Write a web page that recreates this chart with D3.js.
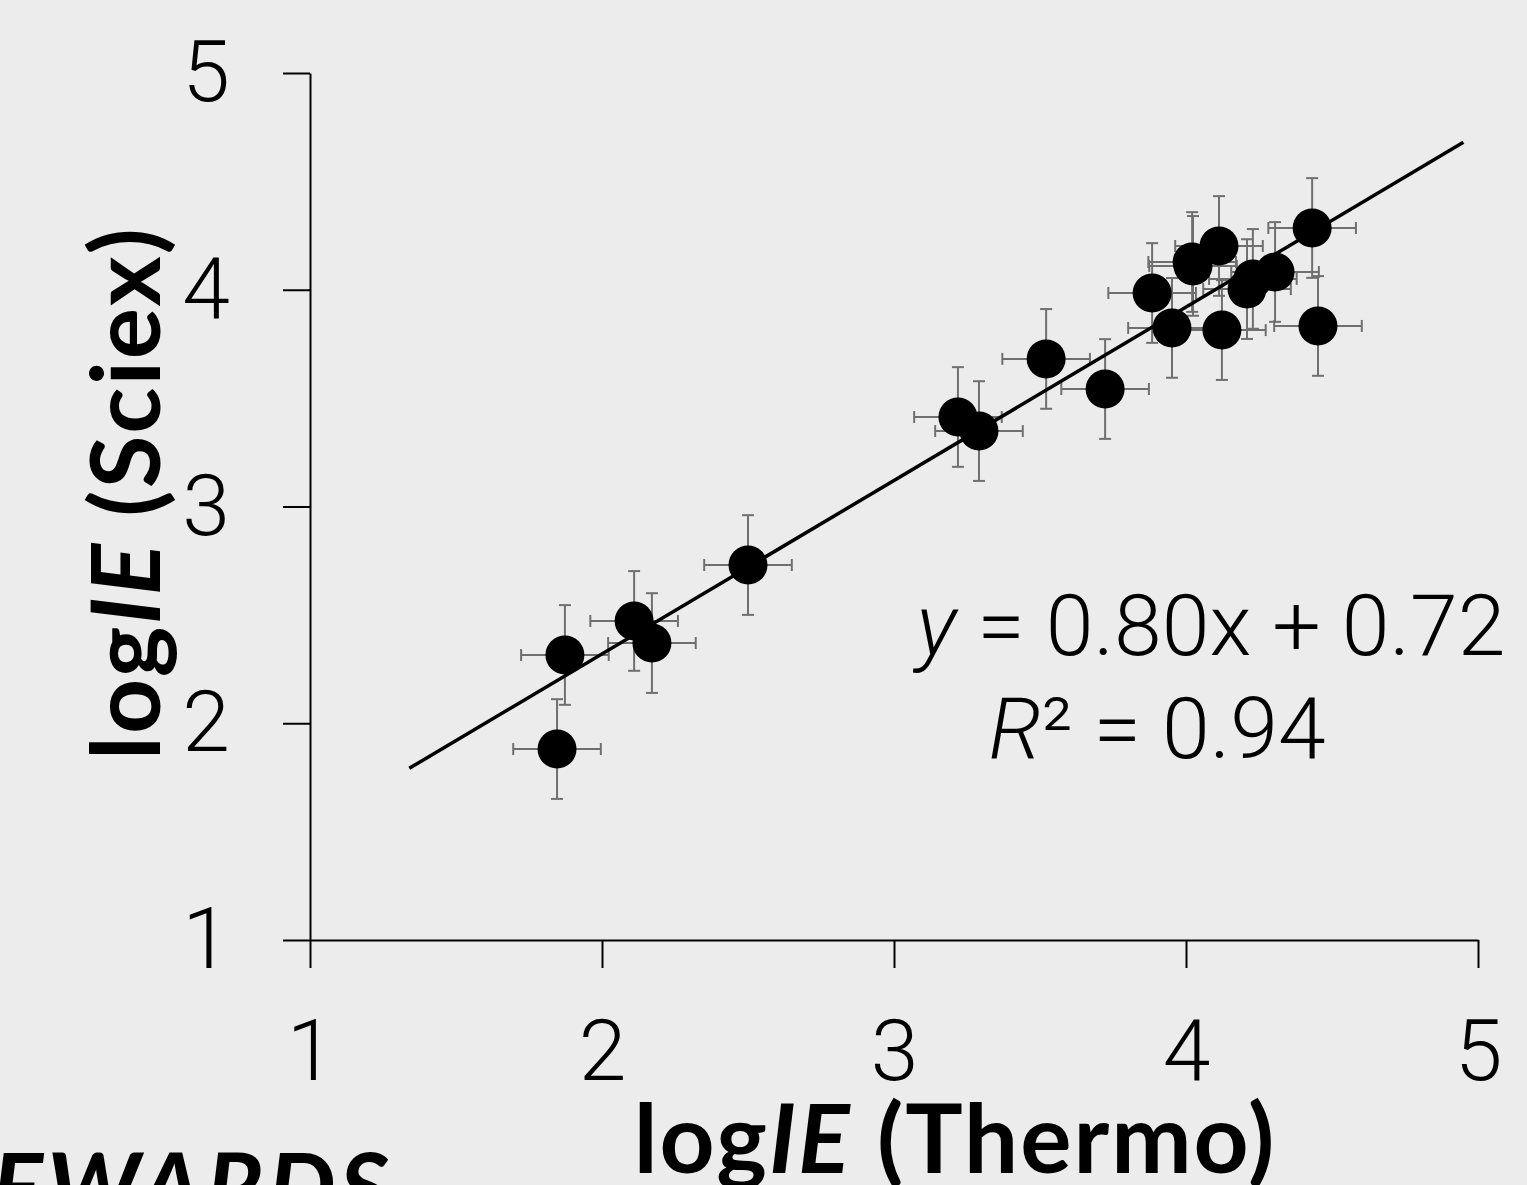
<!DOCTYPE html>
<html>
<head>
<meta charset="utf-8">
<script src="https://cdn.jsdelivr.net/npm/d3@7"></script>
<style>
  html, body { margin: 0; padding: 0; background: #ececec; }
  svg { display: block; }
  .tick text { font-family: Roboto, "Open Sans", sans-serif; font-weight: 300; }
  .title { font-family: Lato, Roboto, sans-serif; font-weight: 700; }
</style>
</head>
<body>
<div id="vis"></div>
<script>
// logIE measured on Thermo (x) vs Sciex (y)
const thermo = [1.873, 1.846, 2.110, 2.171, 2.500, 3.219, 3.291, 3.521, 3.723, 3.884,
                3.952, 4.021, 4.024, 4.113, 4.123, 4.229, 4.209, 4.305, 4.432, 4.452];
const sciex  = [2.315, 1.881, 2.472, 2.370, 2.730, 3.413, 3.348, 3.681, 3.542, 3.985,
                3.824, 4.128, 4.110, 4.202, 3.814, 4.050, 4.003, 4.082, 4.285, 3.833];
const thermoErr = [0.15, 0.15, 0.15, 0.15, 0.15, 0.15, 0.15, 0.15, 0.15, 0.15,
                   0.15, 0.15, 0.15, 0.15, 0.15, 0.15, 0.15, 0.15, 0.15, 0.15];
const sciexErr  = [0.23, 0.23, 0.23, 0.23, 0.23, 0.23, 0.23, 0.23, 0.23, 0.23,
                   0.23, 0.23, 0.23, 0.23, 0.23, 0.23, 0.23, 0.23, 0.23, 0.23];
const tickValues = [1, 2, 3, 4, 5];
const fitSlope = 0.80, fitIntercept = 0.72;
const fitRange = [1.34, 4.95];

const W = 1527, H = 1185;
const svg = d3.select("#vis").append("svg").attr("width", W).attr("height", H);

const x = d3.scaleLinear().domain([1, 5]).range([310, 1478]);
const y = d3.scaleLinear().domain([1, 5]).range([940, 73]);

// axes
const xAxis = svg.append("g")
  .attr("transform", `translate(0,${y(1)})`)
  .call(d3.axisBottom(x).tickValues(tickValues).tickFormat(d3.format("d"))
    .tickSize(28).tickSizeOuter(0).tickPadding(51));
const yAxis = svg.append("g")
  .attr("transform", `translate(${x(1)},0)`)
  .call(d3.axisLeft(y).tickValues(tickValues).tickFormat(d3.format("d"))
    .tickSize(27).tickSizeOuter(0).tickPadding(53));
[xAxis, yAxis].forEach(a => {
  a.selectAll("path, line").attr("stroke", "#000").attr("stroke-width", 2);
  a.selectAll("text").attr("font-size", 86).attr("fill", "#000");
});

const pts = thermo.map((v, i) => ({x: v, y: sciex[i], ex: thermoErr[i], ey: sciexErr[i]}));
const cap = 6;
const err = svg.append("g").attr("stroke", "#6f6f6f").attr("stroke-width", 2);
pts.forEach(d => {
  const cx = x(d.x), cy = y(d.y);
  const x0 = x(d.x - d.ex), x1 = x(d.x + d.ex);
  const y0 = y(d.y - d.ey), y1 = y(d.y + d.ey);
  err.append("line").attr("x1", x0).attr("x2", x1).attr("y1", cy).attr("y2", cy);
  err.append("line").attr("x1", x0).attr("x2", x0).attr("y1", cy - cap).attr("y2", cy + cap);
  err.append("line").attr("x1", x1).attr("x2", x1).attr("y1", cy - cap).attr("y2", cy + cap);
  err.append("line").attr("x1", cx).attr("x2", cx).attr("y1", y0).attr("y2", y1);
  err.append("line").attr("x1", cx - cap).attr("x2", cx + cap).attr("y1", y0).attr("y2", y0);
  err.append("line").attr("x1", cx - cap).attr("x2", cx + cap).attr("y1", y1).attr("y2", y1);
});

svg.append("g").selectAll("circle").data(pts).enter().append("circle")
  .attr("cx", d => x(d.x)).attr("cy", d => y(d.y)).attr("r", 19.5).attr("fill", "#000");

// trend line
svg.append("line")
  .attr("x1", x(fitRange[0])).attr("y1", y(fitSlope * fitRange[0] + fitIntercept))
  .attr("x2", x(fitRange[1])).attr("y2", y(fitSlope * fitRange[1] + fitIntercept))
  .attr("stroke", "#000").attr("stroke-width", 3.5);

// equation
const eq = svg.append("g").attr("font-family", "Roboto, 'Open Sans', sans-serif")
  .attr("font-weight", 300).attr("font-size", 86).attr("fill", "#000").attr("text-anchor", "middle");
const l1 = eq.append("text").attr("x", 1211).attr("y", 655);
l1.append("tspan").attr("font-style", "italic").text("y");
l1.append("tspan").text(" = 0.80x + 0.72");
const l2 = eq.append("text").attr("x", 1157).attr("y", 758);
l2.append("tspan").attr("font-style", "italic").text("R");
l2.append("tspan").text("² = 0.94");

// axis titles
const xt = svg.append("text").attr("class", "title").attr("x", 955).attr("y", 1173)
  .attr("text-anchor", "middle").attr("font-size", 96).attr("letter-spacing", 2);
xt.append("tspan").text("log");
xt.append("tspan").attr("font-style", "italic").text("IE");
xt.append("tspan").text(" (Thermo)");

const yt = svg.append("text").attr("class", "title")
  .attr("transform", "translate(160,493) rotate(-90)")
  .attr("text-anchor", "middle").attr("font-size", 96).attr("letter-spacing", 2);
yt.append("tspan").text("log");
yt.append("tspan").attr("font-style", "italic").text("IE");
yt.append("tspan").text(" (Sciex)");

// heading cut off at the bottom of the page
svg.append("text").attr("class", "title").attr("x", -70).attr("y", 1222)
  .attr("font-size", 96).attr("font-style", "italic").attr("letter-spacing", 4).text("REWARDS");
</script>
</body>
</html>
